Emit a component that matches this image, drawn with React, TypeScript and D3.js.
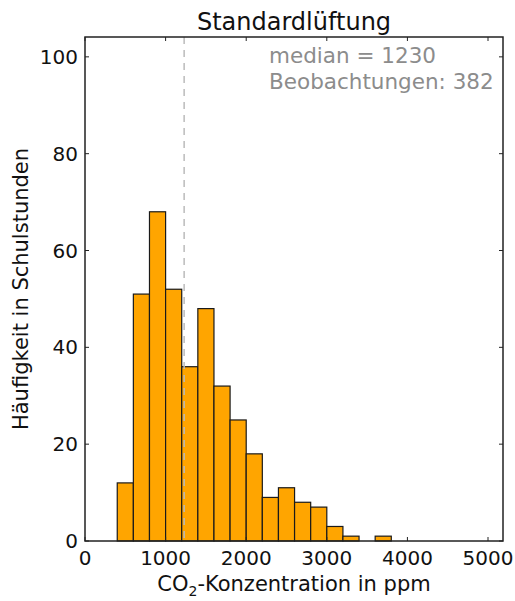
import { useRef, useEffect } from 'react';
import * as d3 from 'd3';

const WIDTH = 515;
const HEIGHT = 601;
const MARGIN = { top: 37, right: 12, bottom: 60, left: 85 };

// histogram bins (200 ppm wide) and counts
const binStarts = [400, 600, 800, 1000, 1200, 1400, 1600, 1800, 2000, 2200, 2400, 2600, 2800, 3000, 3200, 3400, 3600];
const counts = [12, 51, 68, 52, 36, 48, 32, 25, 18, 9, 11, 8, 7, 3, 1, 0, 1];
const BIN_WIDTH = 200;
const xTicks = [0, 1000, 2000, 3000, 4000, 5000];
const yTicks = [0, 20, 40, 60, 80, 100];
const MEDIAN = 1230;
const N_OBS = 382;

const FONT = 'DejaVu Sans, sans-serif';

const App = () => {
	const ref = useRef<SVGSVGElement>(null);

	useEffect(() => {
		const svg = d3.select(ref.current);
		svg.selectAll('*').remove();

		const w = WIDTH - MARGIN.left - MARGIN.right;
		const h = HEIGHT - MARGIN.top - MARGIN.bottom;

		const x = d3.scaleLinear().domain([0, 5186]).range([0, w]);
		const y = d3.scaleLinear().domain([0, 104.1]).range([h, 0]);

		const g = svg.append('g').attr('transform', `translate(${MARGIN.left},${MARGIN.top})`);

		// bars
		g.selectAll('rect.bar')
			.data(counts.map((c, i) => ({ x0: binStarts[i], c })).filter(d => d.c > 0))
			.enter()
			.append('rect')
			.attr('class', 'bar')
			.attr('x', d => x(d.x0))
			.attr('y', d => y(d.c))
			.attr('width', d => x(d.x0 + BIN_WIDTH) - x(d.x0))
			.attr('height', d => y(0) - y(d.c))
			.attr('fill', '#ffa500')
			.attr('stroke', '#1a1a1a')
			.attr('stroke-width', 1.2);

		// median line
		g.append('line')
			.attr('x1', x(MEDIAN))
			.attr('x2', x(MEDIAN))
			.attr('y1', 0)
			.attr('y2', h)
			.attr('stroke', '#bbbbbb')
			.attr('stroke-width', 1.5)
			.attr('stroke-dasharray', '7,6');

		// inward ticks on all four sides
		const tickLen = 4;
		const tickStyle = (sel: any) => sel.attr('stroke', '#222').attr('stroke-width', 1);
		xTicks.forEach(t => {
			tickStyle(g.append('line').attr('x1', x(t)).attr('x2', x(t)).attr('y1', h).attr('y2', h - tickLen));
			tickStyle(g.append('line').attr('x1', x(t)).attr('x2', x(t)).attr('y1', 0).attr('y2', tickLen));
			g.append('text')
				.attr('x', x(t))
				.attr('y', h + 24)
				.attr('text-anchor', 'middle')
				.attr('font-family', FONT)
				.attr('font-size', 20)
				.attr('fill', '#111')
				.text(t);
		});
		yTicks.forEach(t => {
			tickStyle(g.append('line').attr('x1', 0).attr('x2', tickLen).attr('y1', y(t)).attr('y2', y(t)));
			tickStyle(g.append('line').attr('x1', w).attr('x2', w - tickLen).attr('y1', y(t)).attr('y2', y(t)));
			g.append('text')
				.attr('x', -7)
				.attr('y', y(t))
				.attr('dy', '0.35em')
				.attr('text-anchor', 'end')
				.attr('font-family', FONT)
				.attr('font-size', 20)
				.attr('fill', '#111')
				.text(t);
		});

		// frame
		g.append('rect')
			.attr('width', w)
			.attr('height', h)
			.attr('fill', 'none')
			.attr('stroke', '#222')
			.attr('stroke-width', 1.5);

		// annotation, left aligned
		const ann = g.append('text')
			.attr('text-anchor', 'start')
			.attr('font-family', FONT)
			.attr('font-size', 21.5)
			.attr('fill', '#8c8c8c');
		ann.append('tspan').attr('x', 184).attr('y', 26).text(`median = ${MEDIAN}`);
		ann.append('tspan').attr('x', 184).attr('y', 52).text(`Beobachtungen: ${N_OBS}`);

		// title
		svg.append('text')
			.attr('x', MARGIN.left + w / 2)
			.attr('y', 30)
			.attr('text-anchor', 'middle')
			.attr('font-family', FONT)
			.attr('font-size', 24)
			.attr('fill', '#111')
			.text('Standardlüftung');

		// x label
		const xl = svg.append('text')
			.attr('x', MARGIN.left + w / 2)
			.attr('y', 591)
			.attr('text-anchor', 'middle')
			.attr('font-family', FONT)
			.attr('font-size', 21)
			.attr('fill', '#111');
		xl.append('tspan').text('CO');
		xl.append('tspan').attr('font-size', 14).attr('dy', 5).text('2');
		xl.append('tspan').attr('dy', -5).text('-Konzentration in ppm');

		// y label
		svg.append('text')
			.attr('transform', `translate(28,${MARGIN.top + h / 2}) rotate(-90)`)
			.attr('text-anchor', 'middle')
			.attr('font-family', FONT)
			.attr('font-size', 21)
			.attr('fill', '#111')
			.text('Häufigkeit in Schulstunden');
	});

	return (
		<svg
			ref={ref}
			width={WIDTH}
			height={HEIGHT}
			style={{ position: 'absolute', left: 0, top: 0, background: '#fff' }}
		/>
	);
};

export default App;
